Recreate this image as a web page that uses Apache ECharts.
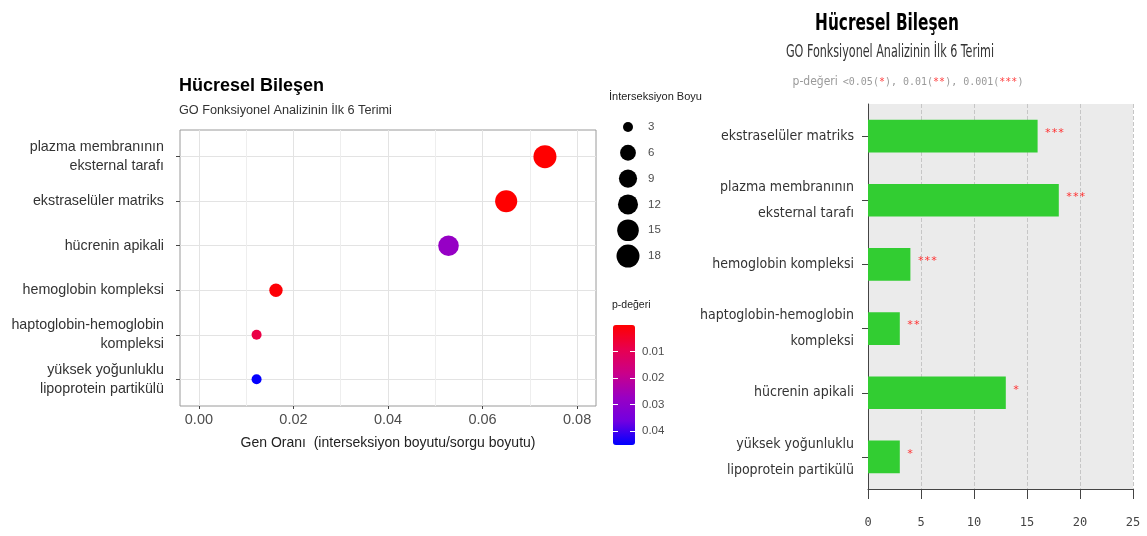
<!DOCTYPE html>
<html>
<head>
<meta charset="utf-8">
<script src="https://cdn.jsdelivr.net/npm/echarts@6/dist/echarts.min.js"></script>
<style>
  html, body { margin: 0; padding: 0; background: #fff; }
  #chart { width: 1147px; height: 536px; }
</style>
</head>
<body>
<div id="chart"></div>
<script>
// GO cellular-component enrichment: top 6 terms
const terms = [
  'plazma membranının\neksternal tarafı',
  'ekstraselüler matriks',
  'hücrenin apikali',
  'hemoglobin kompleksi',
  'haptoglobin-hemoglobin\nkompleksi',
  'yüksek yoğunluklu\nlipoprotein partikülü'
];
const geneRatio        = [0.0732, 0.0650, 0.0528, 0.0163, 0.0122, 0.0122];
const intersectionSize = [18, 16, 13, 4, 3, 3];
const pValue           = [0.00005, 0.00002, 0.028, 0.0007, 0.008, 0.045];

// order of the terms in the bar chart (top to bottom)
const barOrder = [1, 0, 3, 4, 2, 5];

// tick labels
const ratioTicks = [0, 0.02, 0.04, 0.06, 0.08];
const ratioMinor = [0.01, 0.03, 0.05, 0.07];
const sizeBreaks = [3, 6, 9, 12, 15, 18];
const pTicks     = [0.01, 0.02, 0.03, 0.04];
const termIndex  = terms.map((_, i) => i);

const titleText    = 'Hücresel Bileşen';
const subtitleText = 'GO Fonksiyonel Analizinin İlk 6 Terimi';

const SANS = "'Liberation Sans', Arial, sans-serif";
const COND = "'DejaVu Sans Condensed', 'Liberation Sans', sans-serif";
const MONO = "'DejaVu Sans Mono', 'Liberation Mono', monospace";

// point diameter from intersection size (area scale between 3 and 18)
function dotSize(v) {
  return 10 + 13 * Math.sqrt(Math.max(0, v - 3) / 15);
}
function stars(p) {
  if (p < 0.001) return '***';
  if (p < 0.01) return '**';
  if (p < 0.05) return '*';
  return '';
}

const chart = echarts.init(document.getElementById('chart'), null, { renderer: 'canvas' });

const option = {
  backgroundColor: '#ffffff',
  animation: false,
  title: [
    { text: titleText, left: 179, top: 77, padding: 0,
      textStyle: { fontFamily: SANS, fontWeight: 'bold', fontSize: 18, color: '#000' } },
    { text: subtitleText, left: 179, top: 104, padding: 0,
      textStyle: { fontFamily: SANS, fontWeight: 'normal', fontSize: 12.7, color: '#333' } },
    { text: 'İnterseksiyon Boyu', left: 609, top: 91, padding: 0,
      textStyle: { fontFamily: SANS, fontWeight: 'normal', fontSize: 11, color: '#222' } },
    { text: 'p-değeri', left: 612, top: 300, padding: 0,
      textStyle: { fontFamily: SANS, fontWeight: 'normal', fontSize: 10.5, color: '#222' } },
    { text: '{g|p-değeri} {m|<0.05(}{r|*}{m|), 0.01(}{r|**}{m|), 0.001(}{r|***}{m|)}',
      left: 908, top: 73, padding: 0, textAlign: 'center',
      textStyle: {
        fontWeight: 'normal',
        rich: {
          g: { fontFamily: COND, fontWeight: 'normal', fontSize: 12, color: '#999' },
          m: { fontFamily: MONO, fontWeight: 'normal', fontSize: 10, color: '#999' },
          r: { fontFamily: MONO, fontWeight: 'normal', fontSize: 10, color: '#ff4040' }
        }
      } }
  ],
  // narrow-set heading of the bar chart
  graphic: [
    { type: 'text', x: 887, y: 13, scaleX: 0.74,
      style: { text: titleText, font: "bold 23px 'DejaVu Sans Condensed', sans-serif",
        fill: '#000', align: 'center', verticalAlign: 'top' } },
    { type: 'text', x: 890, y: 44, scaleX: 0.73,
      style: { text: subtitleText, font: "17px 'DejaVu Sans Condensed', sans-serif",
        fill: '#333', align: 'center', verticalAlign: 'top' } }
  ],
  grid: [
    { left: 180, top: 130, width: 416, height: 276, show: true,
      backgroundColor: '#fff', borderColor: '#9a9a9a', borderWidth: 1 },
    { left: 618, top: 114, width: 20, height: 155 },
    { left: 613, top: 325, width: 22, height: 120 },
    { left: 868, top: 104, width: 265, height: 385, show: true,
      backgroundColor: '#ebebeb', borderWidth: 0 }
  ],
  visualMap: {
    type: 'continuous',
    seriesIndex: 0,
    dimension: 3,
    min: 0,
    max: 0.0453,
    inverse: true,
    calculable: false,
    text: null,
    left: 613,
    top: 325,
    padding: 0,
    itemWidth: 22,
    itemHeight: 120,
    inRange: { color: ['#FF0000', '#E8004F', '#CA0089', '#9A00C2', '#7200E0', '#0000FF'] }
  },
  xAxis: [
    { gridIndex: 0, type: 'value', min: -0.004, max: 0.084,
      name: 'Gen Oranı  (interseksiyon boyutu/sorgu boyutu)',
      nameLocation: 'middle', nameGap: 30,
      nameTextStyle: { fontFamily: SANS, fontSize: 14, color: '#222' },
      axisLine: { show: false, onZero: false },
      axisTick: { show: true, customValues: ratioTicks, length: 3, lineStyle: { color: '#444' } },
      axisLabel: { customValues: ratioTicks, formatter: v => v.toFixed(2), margin: 6,
        fontFamily: SANS, fontSize: 14.5, color: '#4d4d4d' },
      splitLine: { show: true, lineStyle: { color: '#e3e3e3', width: 1 } } },
    { gridIndex: 0, type: 'value', min: -0.004, max: 0.084, position: 'bottom',
      axisLine: { show: false, onZero: false },
      axisTick: { show: false, customValues: ratioMinor },
      axisLabel: { show: false, customValues: ratioMinor },
      splitLine: { show: true, lineStyle: { color: '#eeeeee', width: 1 } } },
    { gridIndex: 1, type: 'value', min: 0, max: 1, show: false },
    { gridIndex: 2, type: 'value', min: 0, max: 1, show: false },
    { gridIndex: 3, type: 'value', min: 0, max: 25, interval: 5,
      axisLine: { show: true, onZero: false, lineStyle: { color: '#444', width: 1 } },
      axisTick: { show: true, length: 10, lineStyle: { color: '#444' } },
      axisLabel: { margin: 28, fontFamily: MONO, fontSize: 12, color: '#444' },
      splitLine: { show: true, lineStyle: { type: 'dashed', color: '#c6c6c6', width: 1 } } }
  ],
  yAxis: [
    { gridIndex: 0, type: 'value', min: -0.6, max: 5.6, inverse: true,
      axisLine: { show: false, onZero: false },
      axisTick: { show: true, customValues: termIndex, length: 4, lineStyle: { color: '#444' } },
      axisLabel: { customValues: termIndex, formatter: v => terms[v], margin: 16,
        fontFamily: SANS, fontSize: 14.3, lineHeight: 19, color: '#333', align: 'right' },
      splitLine: { show: true, lineStyle: { color: '#e3e3e3', width: 1 } } },
    { gridIndex: 1, type: 'category', data: sizeBreaks.map(String), inverse: true, position: 'right',
      axisLine: { show: false, onZero: false }, axisTick: { show: false },
      axisLabel: { margin: 10, fontFamily: SANS, fontSize: 11.5, color: '#4d4d4d' },
      splitLine: { show: false } },
    { gridIndex: 2, type: 'value', min: 0, max: 0.0453, inverse: true, position: 'right', z: 10,
      axisLine: { show: false, onZero: false },
      axisTick: { show: true, inside: true, customValues: pTicks, length: 5, lineStyle: { color: '#fff', width: 1 } },
      axisLabel: { customValues: pTicks, formatter: v => v.toFixed(2), margin: 7,
        fontFamily: SANS, fontSize: 11.5, color: '#4d4d4d' },
      splitLine: { show: false } },
    { gridIndex: 2, type: 'value', min: 0, max: 0.0453, inverse: true, position: 'left', z: 10,
      axisLine: { show: false, onZero: false },
      axisTick: { show: true, inside: true, customValues: pTicks, length: 5, lineStyle: { color: '#fff', width: 1 } },
      axisLabel: { show: false, customValues: pTicks },
      splitLine: { show: false } },
    { gridIndex: 3, type: 'category', data: barOrder.map(i => terms[i]), inverse: true,
      axisLine: { show: true, onZero: false, lineStyle: { color: '#444', width: 1 } },
      axisTick: { show: true, alignWithLabel: true, length: 6, lineStyle: { color: '#444' } },
      axisLabel: { margin: 14, fontFamily: COND, fontSize: 14, lineHeight: 26, color: '#333' },
      splitLine: { show: false } }
  ],
  series: [
    { type: 'scatter', xAxisIndex: 0, yAxisIndex: 0,
      data: terms.map((t, i) => [geneRatio[i], i, intersectionSize[i], pValue[i]]),
      symbolSize: d => dotSize(d[2]),
      itemStyle: { opacity: 1 } },
    { type: 'scatter', xAxisIndex: 2, yAxisIndex: 1,
      data: sizeBreaks.map((s, i) => [0.5, i, s]),
      symbolSize: d => dotSize(d[2]),
      itemStyle: { color: '#000', opacity: 1 } },
    { type: 'bar', xAxisIndex: 4, yAxisIndex: 4,
      data: barOrder.map(i => ({ value: intersectionSize[i], pval: pValue[i] })),
      barWidth: '51%',
      itemStyle: { color: '#32CD32' },
      label: { show: true, position: 'right', distance: 7, offset: [0, -3],
        formatter: p => stars(p.data.pval),
        fontFamily: MONO, fontSize: 11, color: '#ff3030' } }
  ]
};

chart.setOption(option);
</script>
</body>
</html>
